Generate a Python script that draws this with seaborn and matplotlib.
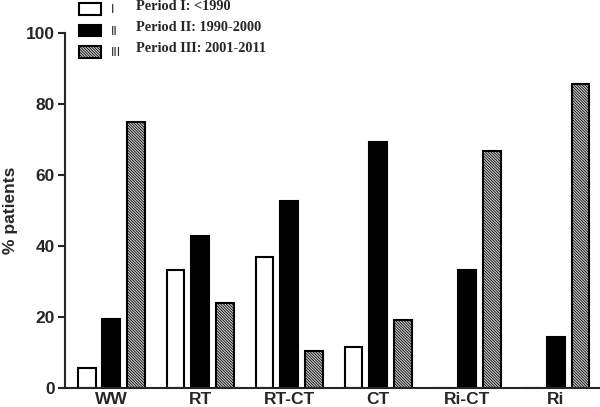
import matplotlib
matplotlib.use("Agg")
import matplotlib.pyplot as plt
from matplotlib.patches import Patch
import seaborn as sns
import pandas as pd

# data
treatments = ['WW', 'RT', 'RT-CT', 'CT', 'Ri-CT', 'Ri']
periods = ['I', 'II', 'III']
period_names = ['Period I: <1990', 'Period II: 1990-2000', 'Period III: 2001-2011']
period_I = [5.6, 33.3, 36.8, 11.5, 0.0, 0.0]
period_II = [19.5, 42.9, 52.6, 69.2, 33.3, 14.3]
period_III = [75.0, 23.8, 10.5, 19.2, 66.7, 85.7]

rows = []
for p, vals in zip(periods, [period_I, period_II, period_III]):
    for t, v in zip(treatments, vals):
        rows.append({'treatment': t, 'period': p, 'value': v})
df = pd.DataFrame(rows)

sns.set_style("ticks")
plt.rcParams['font.family'] = ['Liberation Sans', 'DejaVu Sans']
plt.rcParams['hatch.linewidth'] = 0.55

colors = {'I': 'white', 'II': 'black', 'III': '#c8c8c8'}
hatches = {'I': '', 'II': '', 'III': '\\' * 12}

fig = plt.figure(figsize=(6, 4.07), dpi=100)
ax = fig.add_axes([0.108, 0.047, 0.892, 0.872])

sns.barplot(data=df, x='treatment', y='value', hue='period', palette=colors,
            width=0.83, gap=0.28, edgecolor='black', linewidth=1.5,
            legend=False, ax=ax)

for cont, p in zip(ax.containers, periods):
    for bar in cont:
        bar.set_hatch(hatches[p])

ax.set_xlim(-0.523, 5.495)
ax.set_ylim(0, 100)
ax.set_yticks([0, 20, 40, 60, 80, 100])
ax.set_xlabel('')
ax.set_ylabel('% patients', fontsize=12.5, fontweight='bold', labelpad=6)
ax.tick_params(axis='y', length=5, width=1.5, labelsize=12.5, pad=2)
ax.tick_params(axis='x', length=0, labelsize=12.5, pad=3)
for lab in ax.get_xticklabels() + ax.get_yticklabels():
    lab.set_fontweight('bold')

sns.despine(ax=ax)
ax.spines['left'].set_linewidth(1.5)
ax.spines['bottom'].set_linewidth(1.5)

handles = [Patch(facecolor=colors[p], edgecolor='black', linewidth=1.5,
                 hatch=hatches[p]) for p in periods]
fig.legend(handles, periods, loc='upper left', bbox_to_anchor=(0.113, 1.02),
           frameon=False, fontsize=9, handlelength=1.76, handleheight=1.04,
           labelspacing=0.68, handletextpad=0.8)

for i, name in enumerate(period_names):
    fig.text(0.227, 1 - (6 + 21.5 * i) / 407, name, fontsize=10.3, fontweight='bold',
             family=['Liberation Serif', 'DejaVu Serif'], va='center', ha='left')

fig.savefig('out.png', dpi=100)
